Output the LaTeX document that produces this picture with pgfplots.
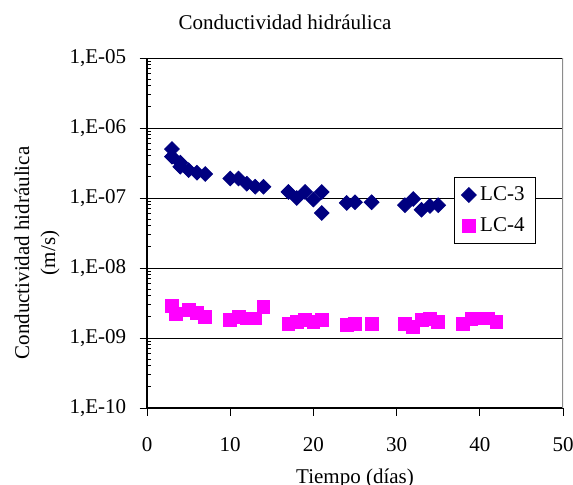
\documentclass[border=0pt]{standalone}
\usepackage{fontspec}
\setmainfont{Liberation Serif}
\usepackage{pgfplots}
\pgfplotsset{compat=1.18}
\definecolor{KNavy}{HTML}{000080}
\definecolor{KMagenta}{HTML}{FF00FF}
\definecolor{KGrayBorder}{HTML}{8C8C8C}

\begin{document}
\fontsize{10.5bp}{13bp}\selectfont
\begin{tikzpicture}
  \useasboundingbox (0,0) rectangle (286.5bp,242.5bp);

  \node[font=\fontsize{10.5bp}{13bp}\selectfont] at (142.5bp,231.5bp)
    {Conductividad hidráulica};

  \begin{axis}[
    at={(73.5bp,38.5bp)},
    anchor=south west,
    width=208bp,
    height=175bp,
    scale only axis,
    xmin=0, xmax=50,
    ymode=log,
    ymin=1e-10, ymax=1e-5,
    xtick={0,10,20,30,40,50},
    xticklabels={0,10,20,30,40,50},
    ytick={1e-10,1e-9,1e-8,1e-7,1e-6,1e-5},
    yticklabels={{1,E-10},{1,E-09},{1,E-08},{1,E-07},{1,E-06},{1,E-05}},
    axis x line*=bottom,
    axis y line*=left,
    axis line style={black, line width=0.7bp},
    tick align=outside,
    major tick length=3.75bp,
    minor tick length=1.75bp,
    tick style={black, line width=0.5bp},
    every minor y tick/.append style={xshift=1.75bp},
    ymajorgrids,
    major grid style={black, line width=0.5bp},
    tick label style={font=\fontsize{10.5bp}{13bp}\selectfont},
    xticklabel style={yshift=-7.5bp},
    yticklabel style={xshift=-3bp},
    legend style={
      at={(0.738,0.66)}, anchor=north west,
      draw=black, line width=0.5bp, fill=white,
      inner xsep=3.5bp, inner ysep=2.5bp, row sep=3bp,
      font=\fontsize{10.5bp}{13bp}\selectfont
    },
    legend cell align=left,
  ]
    % LC-3
    \addplot[only marks, mark=square*, mark size=2.6bp,
      mark options={rotate=45, fill=KNavy, draw=KNavy}] coordinates {
      (3,5.0e-7) (3,3.9e-7) (4,3.2e-7) (4,2.8e-7) (5,2.5e-7) (6,2.3e-7) (7,2.2e-7)
      (10,1.9e-7) (11,1.9e-7) (12,1.6e-7) (13,1.45e-7) (14,1.45e-7)
      (17,1.22e-7) (18,1.0e-7) (19,1.22e-7) (20,9.5e-8) (21,1.22e-7) (21,6.1e-8)
      (24,8.5e-8) (25,8.7e-8) (27,8.7e-8)
      (31,7.9e-8) (32,9.7e-8) (33,6.8e-8) (34,7.7e-8) (35,7.9e-8) (38,7.0e-8)
    };
    \addlegendentry{LC-3}
    % LC-4
    \addplot[only marks, mark=square*, mark size=3.2bp,
      mark options={fill=KMagenta, draw=KMagenta}] coordinates {
      (3,2.9e-9) (3.5,2.2e-9) (5,2.5e-9) (6,2.3e-9) (7,2.0e-9)
      (10,1.8e-9) (11,2.0e-9) (12,1.9e-9) (13,1.9e-9) (14,2.8e-9)
      (17,1.58e-9) (18,1.7e-9) (19,1.8e-9) (20,1.7e-9) (21,1.8e-9)
      (24,1.53e-9) (25,1.6e-9) (27,1.6e-9)
      (31,1.6e-9) (32,1.45e-9) (33,1.8e-9) (34,1.86e-9) (35,1.7e-9)
      (38,1.58e-9) (39,1.86e-9) (40,1.9e-9) (41,1.9e-9) (42,1.7e-9)
    };
    \addlegendentry{LC-4}
    \draw[KGrayBorder, line width=1bp] (rel axis cs:1,0) -- (rel axis cs:1,1);
  \end{axis}

  \node[rotate=90, align=center, font=\fontsize{10.5bp}{13bp}\selectfont]
    at (18.5bp,116bp) {Conductividad hidráulica\\(m/s)};
  \node[anchor=base, font=\fontsize{10.5bp}{13bp}\selectfont]
    at (177.5bp,1bp) {Tiempo (días)};
\end{tikzpicture}
\end{document}
